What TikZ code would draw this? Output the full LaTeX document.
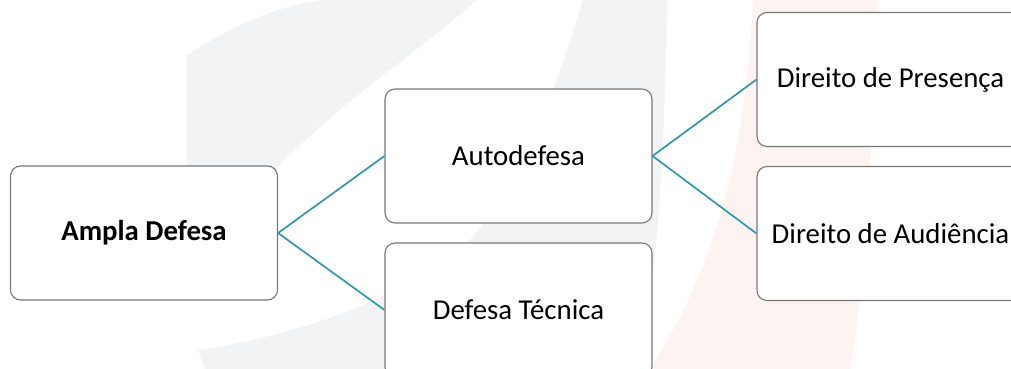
\documentclass[tikz,border=0pt]{standalone}
\usepackage{fontspec}
\setmainfont{Carlito}
\definecolor{wmgray}{RGB}{242,243,245}
\definecolor{wmpink}{RGB}{253,243,240}
\definecolor{linkteal}{RGB}{49,152,172}
\definecolor{boxline}{RGB}{120,120,120}
\tikzset{
  box/.style={draw=boxline, line width=1.1pt, fill=white, rounded corners=10pt,
    minimum width=267pt, minimum height=134pt, inner sep=0pt,
    font=\fontsize{28.8}{34}\selectfont, text=black},
  link/.style={draw=linkteal, line width=1.7pt}
}
\begin{document}
\begin{tikzpicture}[x=1pt,y=-1pt]
\useasboundingbox (0,0) rectangle (1011,369);
\clip (0,0) rectangle (1011,369);
% watermark
\fill[wmgray] (187,55) .. controls (230,28) and (270,8) .. (320,0) -- (477,0)
  .. controls (420,50) and (330,110) .. (270,175)
  .. controls (240,210) and (210,260) .. (187,300) -- cycle;
\fill[wmgray] (583,0) .. controls (565,60) and (530,170) .. (470,240)
  .. controls (400,300) and (300,335) .. (198,350) -- (205,369) -- (640,369)
  .. controls (660,250) and (665,130) .. (667,0) -- cycle;
\fill[wmpink] (753,0) -- (877,0) .. controls (872,150) and (865,280) .. (850,369)
  -- (650,369) .. controls (720,260) and (745,150) .. (753,0) -- cycle;
% nodes
\node[box] (ampla) at (144,233) {\textbf{Ampla Defesa}};
\node[box] (auto) at (518.5,156) {Autodefesa};
\node[box] (tecnica) at (518.5,310) {Defesa Técnica};
\node[box] (presenca) at (890.5,79.5) {Direito de Presença};
\node[box] (audiencia) at (890.5,233.5) {Direito de Audiência};
% connectors
\draw[link] (ampla.east) -- (auto.west);
\draw[link] (ampla.east) -- (tecnica.west);
\draw[link] (auto.east) -- (presenca.west);
\draw[link] (auto.east) -- (audiencia.west);
\end{tikzpicture}
\end{document}
